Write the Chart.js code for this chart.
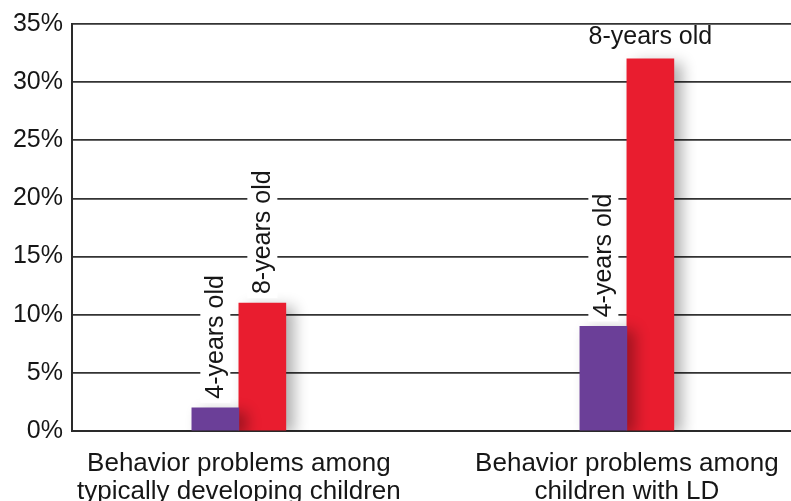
<!DOCTYPE html>
<html>
<head>
<meta charset="utf-8">
<script src="https://cdn.jsdelivr.net/npm/chart.js@4/dist/chart.umd.min.js"></script>
<style>
  html, body { margin: 0; padding: 0; background: #fff; }
</style>
</head>
<body>
<canvas id="plots" width="791" height="501"></canvas>
<script>
// categorias do eixo X (duas linhas cada)
var categories = [
  ["Behavior problems among", "typically developing children"],
  ["Behavior problems among", "children with LD"]
];
var seriesNames = ["4-years old", "8-years old"];
var age4 = [2, 9];    // % roxo
var age8 = [11, 32];  // % vermelho
var yTicks = [0, 5, 10, 15, 20, 25, 30, 35];

var FONT = "'Liberation Sans', Arial, Helvetica, sans-serif";
var INK = '#161616';

function points(values) {
  return values.map(function (v, i) { return { x: i, y: v }; });
}

// sombra das barras
var barShadow = {
  id: 'barShadow',
  beforeDatasetDraw: function (chart) {
    var ctx = chart.ctx;
    ctx.save();
    ctx.shadowColor = 'rgba(0,0,0,0.32)';
    ctx.shadowBlur = 14;
    ctx.shadowOffsetX = 8;
    ctx.shadowOffsetY = 4;
  },
  afterDatasetDraw: function (chart) {
    chart.ctx.restore();
  }
};

// rótulos em cima das barras, com fundo branco cortando a grade
var barLabels = {
  id: 'barLabels',
  afterDatasetsDraw: function (chart) {
    var ctx = chart.ctx;
    ctx.save();
    ctx.font = '25px ' + FONT;
    chart.data.datasets.forEach(function (ds, di) {
      var meta = chart.getDatasetMeta(di);
      meta.data.forEach(function (bar, i) {
        var text = ds.label;
        var w = ctx.measureText(text).width;
        if (ds.labelRotated[i]) {
          var bottom = bar.y - 9;
          ctx.fillStyle = '#fff';
          ctx.fillRect(bar.x - 15, bottom - w - 4, 30, w + 8);
          ctx.save();
          ctx.translate(bar.x, bottom);
          ctx.rotate(-Math.PI / 2);
          ctx.fillStyle = INK;
          ctx.textAlign = 'left';
          ctx.textBaseline = 'middle';
          ctx.fillText(text, 0, 1);
          ctx.restore();
        } else {
          ctx.fillStyle = INK;
          ctx.textAlign = 'center';
          ctx.textBaseline = 'bottom';
          ctx.fillText(text, bar.x, bar.y - 9);
        }
      });
    });
    ctx.restore();
  }
};

new Chart(document.getElementById('plots'), {
  type: 'bar',
  data: {
    datasets: [{
      label: seriesNames[0],
      data: points(age4),
      backgroundColor: '#6B3F98',
      labelRotated: [true, true]
    }, {
      label: seriesNames[1],
      data: points(age8),
      backgroundColor: '#E91D2F',
      labelRotated: [true, false]
    }]
  },
  options: {
    responsive: false,
    animation: false,
    devicePixelRatio: 1,
    layout: { padding: { top: 24, left: 0, right: 0, bottom: 0 } },
    datasets: { bar: { barThickness: 47 } },
    plugins: {
      legend: { display: false },
      tooltip: { enabled: false }
    },
    scales: {
      x: {
        type: 'linear',
        offset: false,
        min: -0.43,
        max: 1.423,
        afterBuildTicks: function (scale) {
          scale.ticks = categories.map(function (c, i) { return { value: i }; });
        },
        afterFit: function (scale) {
          scale.height = 70;
          scale.paddingLeft = 0;
          scale.paddingRight = 0;
        },
        ticks: {
          callback: function (v) { return categories[v]; },
          font: { family: FONT, size: 26, lineHeight: 1.08 },
          color: INK,
          padding: 19,
          maxRotation: 0,
          autoSkip: false
        },
        grid: { display: false, drawTicks: false, offset: false },
        border: { display: true, color: '#2a2a2a', width: 2 }
      },
      y: {
        min: 0,
        max: 35,
        afterBuildTicks: function (scale) {
          scale.ticks = yTicks.map(function (v) { return { value: v }; });
        },
        afterFit: function (scale) { scale.width = 72; },
        ticks: {
          callback: function (v) { return v + '%'; },
          font: { family: FONT, size: 25 },
          color: INK,
          padding: 9
        },
        grid: { color: '#333', lineWidth: 1.8, drawTicks: false },
        border: { display: true, color: '#2a2a2a', width: 2 }
      }
    }
  },
  plugins: [barShadow, barLabels]
});
</script>
</body>
</html>
